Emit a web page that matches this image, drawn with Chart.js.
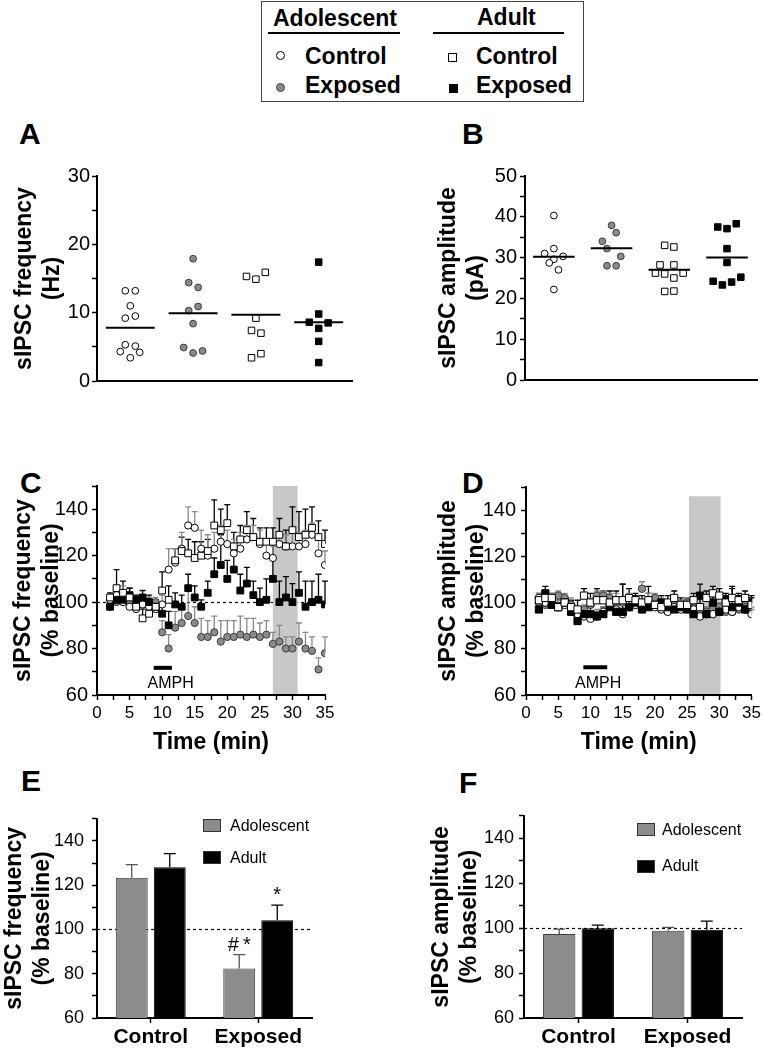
<!DOCTYPE html>
<html>
<head>
<meta charset="utf-8">
<title>sIPSC frequency and amplitude</title>
<script src="https://cdn.jsdelivr.net/npm/chart.js@4.4.1/dist/chart.umd.min.js"></script>
<style>
  body { margin: 0; background: #fff; }
  #page { position: relative; width: 764px; height: 1049px; overflow: hidden; font-family: "Liberation Sans", Arial, Helvetica, sans-serif; color: #000; }
  canvas { position: absolute; }
  .txt { position: absolute; white-space: nowrap; }
  .letter { font-size: 30px; line-height: 30px; font-weight: bold; }
  .lg { font-size: 23px; line-height: 23px; font-weight: bold; }
  .rule { position: absolute; height: 2px; background: #000; }
  .mark { position: absolute; box-sizing: border-box; border: 1px solid #000; width: 9px; height: 9px; }
  .key { position: absolute; width: 18px; height: 13px; box-sizing: border-box; border: 1px solid #333; }
  .keytxt { font-size: 16px; line-height: 20px; }
</style>
</head>
<body>
<div id="page">
  <!-- legenda in alto -->
  <div style="position:absolute;left:261px;top:1px;width:321px;height:99px;border:1.5px solid #444"></div>
  <div class="txt lg" style="left:273px;top:7px">Adolescent</div>
  <div class="rule" style="left:268px;top:32px;width:132px"></div>
  <div class="txt lg" style="left:477px;top:6px">Adult</div>
  <div class="rule" style="left:433px;top:32px;width:131px"></div>
  <div class="mark" style="left:276px;top:51px;border-radius:50%;background:#fff"></div>
  <div class="txt lg" style="left:305px;top:45px">Control</div>
  <div class="mark" style="left:448px;top:53px;background:#fff"></div>
  <div class="txt lg" style="left:476px;top:45px">Control</div>
  <div class="mark" style="left:276px;top:83px;border-radius:50%;background:#8a8a8a;border-color:#444"></div>
  <div class="txt lg" style="left:305px;top:74px">Exposed</div>
  <div class="mark" style="left:449px;top:84px;background:#000"></div>
  <div class="txt lg" style="left:476px;top:74px">Exposed</div>

  <!-- lettere dei pannelli -->
  <div class="txt letter" style="left:19px;top:119px">A</div>
  <div class="txt letter" style="left:462px;top:119px">B</div>
  <div class="txt letter" style="left:20px;top:468px">C</div>
  <div class="txt letter" style="left:462px;top:468px">D</div>
  <div class="txt letter" style="left:21px;top:766px">E</div>
  <div class="txt letter" style="left:459px;top:768px">F</div>

  <canvas id="chartA" width="370" height="245" style="left:0;top:150px"></canvas>
  <canvas id="chartB" width="384" height="245" style="left:380px;top:150px"></canvas>
  <canvas id="chartC" width="370" height="290" style="left:0;top:470px"></canvas>
  <canvas id="chartD" width="384" height="290" style="left:380px;top:470px"></canvas>
  <canvas id="chartE" width="370" height="249" style="left:0;top:800px"></canvas>
  <canvas id="chartF" width="384" height="249" style="left:380px;top:800px"></canvas>

  <!-- legende E / F -->
  <div class="key" style="left:203px;top:819px;background:#8c8c8c"></div>
  <div class="txt keytxt" style="left:230px;top:816px">Adolescent</div>
  <div class="key" style="left:203px;top:851px;background:#000"></div>
  <div class="txt keytxt" style="left:230px;top:848px">Adult</div>
  <div class="key" style="left:637px;top:823px;background:#8c8c8c"></div>
  <div class="txt keytxt" style="left:662px;top:820px">Adolescent</div>
  <div class="key" style="left:637px;top:860px;background:#000"></div>
  <div class="txt keytxt" style="left:662px;top:856px">Adult</div>
</div>

<script>
// Dati: pannello A, frequenza sIPSC (Hz) per cellula; X = gruppo + dispersione
const freqAdolCtrl  = [13.2, 13.2, 11.0, 9.2, 9.5, 5.3, 5.1, 4.3, 4.2, 3.4];
const freqAdolCtrlX = [0.92, 1.08, 1.0, 0.92, 1.08, 0.92, 1.08, 0.84, 1.15, 1.0];
const freqAdolExp   = [17.9, 14.4, 13.7, 10.9, 10.3, 8.4, 4.9, 4.1, 4.4];
const freqAdolExpX  = [2.0, 1.93, 2.08, 2.08, 1.93, 2.0, 1.85, 2.0, 2.15];
const freqAdultCtrl  = [15.3, 14.9, 15.9, 9.2, 7.4, 7.0, 3.4, 4.0];
const freqAdultCtrlX = [2.85, 3.0, 3.15, 3.0, 2.93, 3.08, 2.93, 3.08];
const freqAdultExp   = [17.4, 9.8, 8.6, 8.5, 7.7, 5.8, 2.7];
const freqAdultExpX  = [4.0, 4.0, 3.85, 4.15, 4.0, 4.0, 4.0];
const freqMeans = [7.8, 9.9, 9.7, 8.6];
const freqTicks = [0, 10, 20, 30];

// Pannello B, ampiezza sIPSC (pA)
const ampAdolCtrl  = [40.3, 31.0, 32.2, 30.3, 29.6, 28.7, 27.0, 22.2];
const ampAdolCtrlX = [1.0, 0.84, 1.0, 1.16, 1.0, 0.92, 1.08, 1.0];
const ampAdolExp   = [37.9, 36.1, 34.0, 32.2, 30.3, 28.0, 28.0];
const ampAdolExpX  = [2.0, 2.08, 1.84, 1.92, 2.16, 1.92, 2.08];
const ampAdultCtrl  = [33.0, 32.6, 28.2, 28.2, 26.2, 26.0, 26.2, 25.0, 21.7, 21.8];
const ampAdultCtrlX = [2.92, 3.08, 2.84, 3.08, 2.76, 2.92, 3.24, 3.08, 2.92, 3.08];
const ampAdultExp   = [37.5, 37.1, 38.3, 32.2, 28.8, 24.2, 23.3, 24.0, 25.2];
const ampAdultExpX  = [3.84, 4.0, 4.16, 4.0, 4.0, 3.76, 3.92, 4.08, 4.24];
const ampMeans = [30.2, 32.3, 27.0, 30.0];
const ampTicks = [0, 10, 20, 30, 40, 50];

// Pannelli C e D: decorso temporale (% baseline), un punto al minuto
const minutes = [2, 3, 4, 5, 6, 7, 8, 9, 10, 11, 12, 13, 14, 15, 16, 17, 18, 19, 20, 21, 22, 23, 24, 25, 26, 27, 28, 29, 30, 31, 32, 33, 34, 35];
const timeTicks = [0, 5, 10, 15, 20, 25, 30, 35];
const pctTicks = [60, 80, 100, 120, 140];

const cFreqAdolCtrl    = [101, 103, 100, 98, 97, 99, 98, 97, 99, 114, 117, 123, 133, 132, 123, 120, 123, 126, 125, 121, 123, 127, 128, 125, 120, 119, 125, 124, 124, 124, 125, 129, 121, 116];
const cFreqAdolCtrlErr = [2, 3, 2, 3, 2, 3, 2, 3, 4, 9, 6, 7, 8, 7, 8, 9, 7, 7, 6, 6, 7, 6, 5, 6, 5, 5, 5, 5, 6, 6, 6, 5, 6, 6];
const cFreqAdolExp     = [98, 100, 104, 100, 99, 99, 100, 100, 87, 80, 89, 91, 94, 91, 85, 85, 87, 83, 85, 85, 86, 85, 86, 85, 86, 82, 83, 80, 80, 83, 80, 79, 71, 78];
const cFreqAdolExpErr  = [2, 2, 3, 2, 2, 2, 2, 2, 5, 6, 7, 7, 13, 7, 8, 7, 7, 9, 7, 7, 8, 8, 7, 6, 6, 5, 7, 5, 5, 8, 7, 6, 5, 7];
const cFreqAdultCtrl    = [102, 106, 104, 102, 98, 93, 95, 98, 105, 101, 118, 122, 121, 119, 120, 122, 133, 131, 134, 124, 127, 131, 128, 126, 126, 126, 129, 124, 131, 128, 129, 132, 128, 125];
const cFreqAdultCtrlErr = [2, 8, 5, 4, 3, 4, 3, 3, 8, 6, 5, 6, 6, 7, 6, 5, 11, 9, 8, 6, 6, 8, 8, 6, 6, 6, 7, 7, 10, 11, 11, 9, 7, 6];
const cFreqAdultExp     = [98, 101, 101, 103, 101, 102, 100, 98, 95, 90, 99, 98, 106, 102, 98, 104, 112, 116, 110, 114, 105, 108, 103, 100, 101, 110, 100, 102, 100, 104, 98, 100, 101, 99];
const cFreqAdultExpErr  = [2, 2, 3, 3, 2, 3, 3, 3, 4, 6, 5, 5, 6, 5, 3, 5, 7, 13, 8, 9, 7, 7, 6, 6, 9, 15, 9, 9, 8, 9, 11, 9, 11, 10];

const dAmpAdolCtrl    = [102, 100, 99, 98, 99, 97, 95, 94, 93, 94, 96, 99, 97, 95, 98, 99, 98, 99, 98, 97, 96, 98, 97, 99, 97, 94, 95, 95, 96, 97, 96, 98, 97, 95];
const dAmpAdolCtrlErr = [2, 3, 2, 3, 2, 2, 3, 2, 2, 3, 2, 3, 2, 2, 3, 2, 2, 3, 2, 2, 3, 2, 2, 3, 2, 2, 3, 2, 2, 3, 2, 2, 3, 2];
const dAmpAdolExp     = [100, 99, 101, 103, 102, 99, 94, 97, 99, 103, 103, 102, 101, 100, 102, 99, 106, 101, 102, 100, 98, 100, 99, 100, 98, 96, 96, 97, 98, 96, 96, 97, 98, 96];
const dAmpAdolExpErr  = [2, 2, 3, 2, 2, 3, 2, 2, 3, 2, 2, 2, 3, 2, 2, 2, 3, 3, 2, 2, 2, 3, 2, 2, 2, 3, 2, 2, 2, 2, 3, 2, 2, 2];
const dAmpAdultCtrl    = [101, 102, 102, 98, 100, 98, 97, 103, 100, 101, 101, 100, 101, 101, 102, 101, 100, 101, 99, 98, 100, 102, 99, 99, 101, 98, 102, 104, 103, 100, 102, 101, 102, 99];
const dAmpAdultCtrlErr = [3, 3, 2, 4, 3, 3, 4, 3, 4, 5, 4, 5, 4, 7, 4, 3, 3, 3, 4, 3, 3, 3, 3, 3, 3, 4, 3, 3, 3, 3, 4, 3, 3, 3];
const dAmpAdultExp     = [97, 104, 99, 98, 100, 96, 92, 95, 95, 94, 95, 98, 96, 96, 98, 100, 97, 98, 99, 100, 98, 97, 98, 97, 95, 103, 95, 100, 96, 101, 98, 100, 97, 100];
const dAmpAdultExpErr  = [3, 3, 3, 2, 3, 2, 3, 2, 3, 2, 3, 3, 3, 12, 3, 3, 3, 9, 3, 3, 3, 3, 3, 3, 3, 5, 3, 4, 3, 3, 9, 3, 3, 3];

// Pannelli E e F: medie sul periodo evidenziato (% baseline)
const barGroups = ['Control', 'Exposed'];
const eFreqAdol = [123.4, 82.4];
const eFreqAdolErr = [5.9, 6.2];
const eFreqAdult = [128.1, 104.2];
const eFreqAdultErr = [6.2, 6.8];
const eFreqNotesAdol = ['', '#*'];
const eFreqNotesAdult = ['', '*'];
const fAmpAdol = [97.4, 98.8];
const fAmpAdolErr = [2.2, 1.5];
const fAmpAdult = [100.0, 99.3];
const fAmpAdultErr = [1.3, 3.8];

// Impostazioni generali
const FONT = '"Liberation Sans", Arial, Helvetica, sans-serif';
Chart.defaults.font.family = FONT;
Chart.defaults.color = '#000';
Chart.defaults.animation = false;
Chart.defaults.events = [];
Chart.defaults.plugins.legend.display = false;
Chart.defaults.plugins.tooltip.enabled = false;

const GRAY = '#8a8a8a';

// Linea tratteggiata a 100, banda grigia, barra AMPH
const refLines = {
    id: 'refLines',
    beforeDatasetsDraw(chart, args, opts) {
        const { ctx, chartArea: a, scales: { x, y } } = chart;
        ctx.save();
        if (opts.baseline != null) {
            const py = Math.round(y.getPixelForValue(opts.baseline)) + 0.5;
            ctx.setLineDash([3, 3]);
            ctx.lineWidth = 1.2;
            ctx.strokeStyle = '#000';
            ctx.beginPath();
            ctx.moveTo(a.left, py);
            ctx.lineTo(a.right, py);
            ctx.stroke();
            ctx.setLineDash([]);
        }
        if (opts.band) {
            const x0 = x.getPixelForValue(opts.band[0]);
            const x1 = x.getPixelForValue(opts.band[1]);
            const yt = y.getPixelForValue(opts.band[2]);
            ctx.fillStyle = '#c8c8c8';
            ctx.fillRect(x0, yt, x1 - x0, a.bottom - yt - 1);
        }
        if (opts.drug) {
            const d = opts.drug;
            const py = y.getPixelForValue(d.y);
            ctx.strokeStyle = '#000';
            ctx.lineWidth = 4;
            ctx.beginPath();
            ctx.moveTo(x.getPixelForValue(d.from), py);
            ctx.lineTo(x.getPixelForValue(d.to), py);
            ctx.stroke();
            ctx.fillStyle = '#000';
            ctx.font = '16px ' + FONT;
            ctx.textAlign = 'center';
            ctx.textBaseline = 'middle';
            ctx.fillText(d.label, x.getPixelForValue(d.labelX), y.getPixelForValue(d.labelY));
        }
        ctx.restore();
    }
};

// Barre di errore (solo verso l'alto) e annotazioni
const errorBars = {
    id: 'errorBars',
    beforeDatasetsDraw(chart) {
        const ctx = chart.ctx;
        const ys = chart.scales.y;
        chart.data.datasets.forEach((ds, i) => {
            if (!ds.errUp) return;
            const meta = chart.getDatasetMeta(i);
            ctx.save();
            ctx.strokeStyle = ds.errColor || '#000';
            ctx.lineWidth = ds.errWidth || 1.3;
            meta.data.forEach((el, j) => {
                const v = ds.data[j];
                const val = typeof v === 'object' ? v.y : v;
                const top = ys.getPixelForValue(val + ds.errUp[j]);
                const cap = ds.capHalf || 3;
                ctx.beginPath();
                ctx.moveTo(el.x, el.y);
                ctx.lineTo(el.x, top);
                ctx.moveTo(el.x - cap, top);
                ctx.lineTo(el.x + cap, top);
                ctx.stroke();
            });
            ctx.restore();
        });
    },
    afterDatasetsDraw(chart) {
        const ctx = chart.ctx;
        const ys = chart.scales.y;
        chart.data.datasets.forEach((ds, i) => {
            if (!ds.notes) return;
            const meta = chart.getDatasetMeta(i);
            ctx.save();
            ctx.fillStyle = '#000';
            ctx.font = '20px ' + FONT;
            ctx.letterSpacing = '4px';
            ctx.textAlign = 'center';
            ctx.textBaseline = 'alphabetic';
            meta.data.forEach((el, j) => {
                if (!ds.notes[j]) return;
                const top = ys.getPixelForValue(ds.data[j] + ds.errUp[j]);
                ctx.fillText(ds.notes[j], el.x + 2, top - 4);
            });
            ctx.restore();
        });
    }
};

function yScale(min, max, step, labels, title, width, titlePad, labelPad, tickSize) {
    return {
        type: 'linear',
        min: min,
        max: max,
        afterFit: (s) => { s.width = width; },
        border: { display: true, color: '#000', width: 2 },
        grid: { display: true, drawOnChartArea: false, drawTicks: true, tickLength: 5, tickWidth: 1.5, color: '#000' },
        ticks: {
            stepSize: step,
            autoSkip: false,
            padding: labelPad,
            color: '#000',
            font: { size: tickSize },
            callback: (v) => labels.includes(v) ? String(v) : ''
        },
        title: {
            display: true,
            text: title,
            color: '#000',
            font: { size: 23, weight: 'bold', lineHeight: 1.2 },
            padding: { top: titlePad, bottom: 0 }
        }
    };
}

function groupX(min, max) {
    return {
        type: 'linear',
        min: min,
        max: max,
        afterFit: (s) => { s.height = 12; },
        border: { display: true, color: '#000', width: 2 },
        grid: { display: false },
        ticks: { display: false }
    };
}

function timeX() {
    return {
        type: 'linear',
        min: 0,
        max: 35,
        afterFit: (s) => { s.height = 65; },
        border: { display: true, color: '#000', width: 2 },
        grid: { display: true, drawOnChartArea: false, drawTicks: true, tickLength: 5, tickWidth: 1.5, color: '#000' },
        ticks: {
            stepSize: 2.5,
            autoSkip: false,
            maxRotation: 0,
            padding: 3,
            color: '#000',
            font: { size: 17 },
            callback: (v) => timeTicks.includes(v) ? String(v) : ''
        },
        title: {
            display: true,
            text: 'Time (min)',
            color: '#000',
            font: { size: 23, weight: 'bold', lineHeight: 1.2 },
            padding: { top: 0, bottom: 4 }
        }
    };
}

function barX() {
    return {
        type: 'category',
        offset: true,
        afterFit: (s) => { s.height = 31; },
        border: { display: true, color: '#000', width: 2 },
        grid: { display: true, drawOnChartArea: false, drawTicks: true, tickLength: 5, tickWidth: 1.5, offset: false, color: '#000' },
        ticks: { padding: 2, color: '#000', font: { size: 21, weight: 'bold' } }
    };
}

const pts = (xs, ys) => ys.map((y, i) => ({ x: xs[i], y: y }));

function dots(xs, ys, style, fill, size) {
    return {
        data: pts(xs, ys),
        pointStyle: style,
        pointRadius: size,
        backgroundColor: fill,
        borderColor: fill === GRAY ? '#3c3c3c' : '#000',
        borderWidth: 1
    };
}

function meanLine(c, m, half) {
    return {
        data: [{ x: c - half, y: m }, { x: c + half, y: m }],
        showLine: true,
        borderColor: '#000',
        borderWidth: 2,
        pointRadius: 0
    };
}

function series(vals, errs, style, fill, size, errColor) {
    return Object.assign(dots(minutes, vals, style, fill, size), { errUp: errs, errColor: errColor, capHalf: 3 });
}

// Pannello A
new Chart(document.getElementById('chartA'), {
    type: 'scatter',
    data: {
        datasets: [
            ...freqMeans.map((m, i) => meanLine(i + 1, m, 0.39)),
            dots(freqAdolCtrlX, freqAdolCtrl, 'circle', '#fff', 3.4),
            dots(freqAdolExpX, freqAdolExp, 'circle', GRAY, 3.4),
            dots(freqAdultCtrlX, freqAdultCtrl, 'rect', '#fff', 4.6),
            dots(freqAdultExpX, freqAdultExp, 'rect', '#000', 4.6)
        ]
    },
    options: {
        responsive: false,
        layout: { padding: { top: 26, right: 18, left: 0, bottom: 0 } },
        scales: {
            x: groupX(0.47, 4.53),
            y: yScale(0, 30, 5, freqTicks, ['sIPSC frequency', '(Hz)'], 97, 11, 2, 20)
        }
    }
});

// Pannello B
new Chart(document.getElementById('chartB'), {
    type: 'scatter',
    data: {
        datasets: [
            ...ampMeans.map((m, i) => meanLine(i + 1, m, 0.36)),
            dots(ampAdolCtrlX, ampAdolCtrl, 'circle', '#fff', 3.4),
            dots(ampAdolExpX, ampAdolExp, 'circle', GRAY, 3.4),
            dots(ampAdultCtrlX, ampAdultCtrl, 'rect', '#fff', 4.6),
            dots(ampAdultExpX, ampAdultExp, 'rect', '#000', 4.6)
        ]
    },
    options: {
        responsive: false,
        layout: { padding: { top: 26, right: 7, left: 0, bottom: 0 } },
        scales: {
            x: groupX(0.5, 4.52),
            y: yScale(0, 50, 5, ampTicks, ['sIPSC amplitude', '(pA)'], 145, 55, 3, 20)
        }
    }
});

// Pannello C
new Chart(document.getElementById('chartC'), {
    type: 'scatter',
    data: {
        datasets: [
            series(cFreqAdultCtrl, cFreqAdultCtrlErr, 'rect', '#fff', 4.8, '#000'),
            series(cFreqAdultExp, cFreqAdultExpErr, 'rect', '#000', 4.8, '#000'),
            series(cFreqAdolCtrl, cFreqAdolCtrlErr, 'circle', '#fff', 3.6, '#8a8a8a'),
            series(cFreqAdolExp, cFreqAdolExpErr, 'circle', GRAY, 3.6, '#8a8a8a')
        ]
    },
    plugins: [refLines, errorBars],
    options: {
        responsive: false,
        layout: { padding: { top: 15, right: 45, left: 0, bottom: 0 } },
        plugins: {
            refLines: {
                baseline: 100,
                band: [27, 30.8, 150],
                drug: { from: 8.7, to: 11.5, y: 71.7, label: 'AMPH', labelX: 11.3, labelY: 65 }
            }
        },
        scales: {
            x: timeX(),
            y: yScale(60, 150, 10, pctTicks, ['sIPSC frequency', '(% baseline)'], 97, 10, 4, 20)
        }
    }
});

// Pannello D
new Chart(document.getElementById('chartD'), {
    type: 'scatter',
    data: {
        datasets: [
            series(dAmpAdultCtrl, dAmpAdultCtrlErr, 'rect', '#fff', 5.1, '#000'),
            series(dAmpAdultExp, dAmpAdultExpErr, 'rect', '#000', 5.1, '#000'),
            series(dAmpAdolCtrl, dAmpAdolCtrlErr, 'circle', '#fff', 3.8, '#8a8a8a'),
            series(dAmpAdolExp, dAmpAdolExpErr, 'circle', GRAY, 3.8, '#8a8a8a')
        ]
    },
    plugins: [refLines, errorBars],
    options: {
        responsive: false,
        layout: { padding: { top: 15, right: 10, left: 0, bottom: 0 } },
        plugins: {
            refLines: {
                band: [25.3, 30.2, 146],
                drug: { from: 8.9, to: 12.6, y: 72, label: 'AMPH', labelX: 11.2, labelY: 65 }
            }
        },
        scales: {
            x: timeX(),
            y: yScale(60, 150, 10, pctTicks, ['sIPSC amplitude', '(% baseline)'], 146, 55, 5, 20)
        }
    }
});

// Pannelli E e F
function barChart(id, adol, adolErr, adult, adultErr, notesAdol, notesAdult, title, yWidth, titlePad, labelPad, padRight) {
    return new Chart(document.getElementById(id), {
        type: 'bar',
        data: {
            labels: barGroups,
            datasets: [
                { label: 'Adolescent', data: adol, backgroundColor: '#8c8c8c', borderColor: '#3c3c3c', borderWidth: 1,
                  errUp: adolErr, errColor: '#555', capHalf: 6, notes: notesAdol },
                { label: 'Adult', data: adult, backgroundColor: '#000', borderColor: '#000', borderWidth: 1,
                  errUp: adultErr, errColor: '#000', capHalf: 6, notes: notesAdult }
            ]
        },
        plugins: [refLines, errorBars],
        options: {
            responsive: false,
            barPercentage: 0.84,
            categoryPercentage: 0.707,
            layout: { padding: { top: 14, right: padRight, left: 0, bottom: 0 } },
            plugins: { refLines: { baseline: 100 } },
            scales: {
                x: barX(),
                y: yScale(60, 150, 10, pctTicks, title, yWidth, titlePad, labelPad, 18)
            }
        }
    });
}

barChart('chartE', eFreqAdol, eFreqAdolErr, eFreqAdult, eFreqAdultErr, eFreqNotesAdol, eFreqNotesAdult,
    ['sIPSC frequency', '(% baseline)'], 97, 1, 8, 58);
barChart('chartF', fAmpAdol, fAmpAdolErr, fAmpAdult, fAmpAdultErr, null, null,
    ['sIPSC amplitude', '(% baseline)'], 144, 48, 5, 22);
</script>
</body>
</html>
